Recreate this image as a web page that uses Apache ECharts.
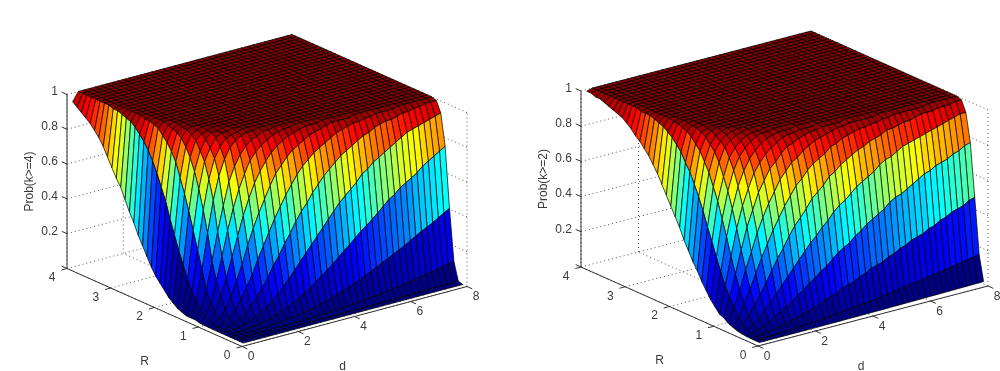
<!DOCTYPE html>
<html>
<head>
<meta charset="utf-8">
<style>
  html, body { margin: 0; background: #fff; }
  #main { width: 1000px; height: 371px; }
</style>
<script src="https://cdn.jsdelivr.net/npm/echarts@6/dist/echarts.min.js"></script>
</head>
<body>
<div id="main"></div>
<script>
const dValues = [0.2,0.4,0.6,0.8,1,1.2,1.4,1.6,1.8,2,2.2,2.4,2.6,2.8,3,3.2,3.4,3.6,3.8,4,4.2,4.4,4.6,4.8,5,5.2,5.4,5.6,5.8,6,6.2,6.4,6.6,6.8,7,7.2,7.4,7.6,7.8,8]
const rValues = [0.1,0.2,0.3,0.4,0.5,0.6,0.7,0.8,0.9,1,1.1,1.2,1.3,1.4,1.5,1.6,1.7,1.8,1.9,2,2.1,2.2,2.3,2.4,2.5,2.6,2.7,2.8,2.9,3,3.1,3.2,3.3,3.4,3.5,3.6,3.7,3.8,3.9,4]
const dTicks = [0, 2, 4, 6, 8]
const rTicks = [0, 1, 2, 3, 4]
const zTicks = [0.2, 0.4, 0.6, 0.8, 1]

// percent, one row per R, one column per d
const probK4 = [
  [0,0,0,0,0,0,0,0,0,0, 0,0,0,0,0,0,0,0,0,0, 0,0,0,0,0,0,0,0,0,0, 0,0,0,0,0,0,0,0,0,0],
  [0,0,0,0,0,0,0,0,0,0, .01,.01,.01,.02,.03,.03,.04,.05,.06,.08, .09,.11,.13,.15,.19,.21,.24,.27,.31,.35, .39,.43,.48,.54,.6,.66,.71,.78,.86,.95],
  [0,0,0,0,.01,.02,.03,.05,.08,.12, .18,.24,.32,.41,.52,.65,.8,.98,1.17,1.38, 1.6,1.9,2.2,2.5,2.9,3.2,3.6,4,4.5,4.9, 5.5,6,6.6,7.2,7.8,8.4,9,9.7,10.5,11.2],
  [0,0,.01,.03,.08,.15,.27,.42,.63,.91, 1.25,1.7,2.2,2.8,3.4,4.2,5.1,6,7,8, 9.2,10.4,11.8,13.1,14.6,16.2,17.7,19.4,21,22.6, 24.2,25.9,27.8,29.7,31.6,33,34.8,36.6,38.6,40.4],
  [0,.01,.06,.17,.38,.72,1.2,1.9,2.8,3.8, 5.2,6.7,8.3,10.2,12.3,14.5,16.9,19.5,21.8,24.5, 27.4,30.3,33,36,39,41.5,44,47,50,53, 55,58,60,62,64,67,69,71,73,75],
  [0,.05,.22,.6,1.3,2.4,3.9,5.9,8.2,11, 14,17,21,25,29,33,37,41,45,49, 53,57,60,63,66,70,72,75,77,79, 81,83,85,87,88,89,90,91,92,93],
  [.01,.14,.62,1.7,3.5,6.1,9.5,13.5,18,23, 29,34,40,45,51,56,60,65,69,73, 76,79,82,84,86,88,90,91,93,94, 95,95,96,97,97,98,98,99,99,99],
  [.02,.4,1.5,3.9,7.6,12.7,19,25,33,40, 47,54,60,66,71,76,80,83,86,88, 90,92,94,95,96,97,97,98,98,99, 99,99,99,100,100,100,100,100,100,100],
  [.05,.8,3.2,7.8,14,22,31,41,50,58, 65,72,78,82,86,89,91,93,95,96, 97,98,99,99,99,99,100,100,100,100, 100,100,100,100,100,100,100,100,100,100],
  [.1,1.6,6,14,24,35,46,57,66,74, 80,85,89,92,94,96,97,98,99,99, 99,100,100,100,100,100,100,100,100,100, 100,100,100,100,100,100,100,100,100,100],
  [.3,3,10,22,35,49,61,71,79,86, 90,93,95,97,98,99,99,100,100,100, 100,100,100,100,100,100,100,100,100,100, 100,100,100,100,100,100,100,100,100,100],
  [1,5,16,32,48,62,75,83,89,93, 96,97,99,99,100,100,100,100,100,100, 100,100,100,100,100,100,100,100,100,100, 100,100,100,100,100,100,100,100,100,100],
  [1,10,27,47,65,78,87,93,96,98, 99,99,100,100,100,100,100,100,100,100, 100,100,100,100,100,100,100,100,100,100, 100,100,100,100,100,100,100,100,100,100],
  [1,14,37,59,76,87,93,97,98,99, 100,100,100,100,100,100,100,100,100,100, 100,100,100,100,100,100,100,100,100,100, 100,100,100,100,100,100,100,100,100,100],
  [2,20,47,70,85,92,97,99,99,100, 100,100,100,100,100,100,100,100,100,100, 100,100,100,100,100,100,100,100,100,100, 100,100,100,100,100,100,100,100,100,100],
  [3,27,57,79,90,96,99,99,100,100, 100,100,100,100,100,100,100,100,100,100, 100,100,100,100,100,100,100,100,100,100, 100,100,100,100,100,100,100,100,100,100],
  [5,34,66,86,95,98,99,100,100,100, 100,100,100,100,100,100,100,100,100,100, 100,100,100,100,100,100,100,100,100,100, 100,100,100,100,100,100,100,100,100,100],
  [7,42,74,91,97,99,100,100,100,100, 100,100,100,100,100,100,100,100,100,100, 100,100,100,100,100,100,100,100,100,100, 100,100,100,100,100,100,100,100,100,100],
  [10,50,82,95,99,100,100,100,100,100, 100,100,100,100,100,100,100,100,100,100, 100,100,100,100,100,100,100,100,100,100, 100,100,100,100,100,100,100,100,100,100],
  [13,59,87,97,99,100,100,100,100,100, 100,100,100,100,100,100,100,100,100,100, 100,100,100,100,100,100,100,100,100,100, 100,100,100,100,100,100,100,100,100,100],
  [16,66,91,98,100,100,100,100,100,100, 100,100,100,100,100,100,100,100,100,100, 100,100,100,100,100,100,100,100,100,100, 100,100,100,100,100,100,100,100,100,100],
  [20,73,94,99,100,100,100,100,100,100, 100,100,100,100,100,100,100,100,100,100, 100,100,100,100,100,100,100,100,100,100, 100,100,100,100,100,100,100,100,100,100],
  [25,79,97,100,100,100,100,100,100,100, 100,100,100,100,100,100,100,100,100,100, 100,100,100,100,100,100,100,100,100,100, 100,100,100,100,100,100,100,100,100,100],
  [30,84,98,100,100,100,100,100,100,100, 100,100,100,100,100,100,100,100,100,100, 100,100,100,100,100,100,100,100,100,100, 100,100,100,100,100,100,100,100,100,100],
  [35,88,99,100,100,100,100,100,100,100, 100,100,100,100,100,100,100,100,100,100, 100,100,100,100,100,100,100,100,100,100, 100,100,100,100,100,100,100,100,100,100],
  [41,91,99,100,100,100,100,100,100,100, 100,100,100,100,100,100,100,100,100,100, 100,100,100,100,100,100,100,100,100,100, 100,100,100,100,100,100,100,100,100,100],
  [46,94,100,100,100,100,100,100,100,100, 100,100,100,100,100,100,100,100,100,100, 100,100,100,100,100,100,100,100,100,100, 100,100,100,100,100,100,100,100,100,100],
  [52,96,100,100,100,100,100,100,100,100, 100,100,100,100,100,100,100,100,100,100, 100,100,100,100,100,100,100,100,100,100, 100,100,100,100,100,100,100,100,100,100],
  [58,97,100,100,100,100,100,100,100,100, 100,100,100,100,100,100,100,100,100,100, 100,100,100,100,100,100,100,100,100,100, 100,100,100,100,100,100,100,100,100,100],
  [62,98,100,100,100,100,100,100,100,100, 100,100,100,100,100,100,100,100,100,100, 100,100,100,100,100,100,100,100,100,100, 100,100,100,100,100,100,100,100,100,100],
  [67,99,100,100,100,100,100,100,100,100, 100,100,100,100,100,100,100,100,100,100, 100,100,100,100,100,100,100,100,100,100, 100,100,100,100,100,100,100,100,100,100],
  [72,99,100,100,100,100,100,100,100,100, 100,100,100,100,100,100,100,100,100,100, 100,100,100,100,100,100,100,100,100,100, 100,100,100,100,100,100,100,100,100,100],
  [77,100,100,100,100,100,100,100,100,100, 100,100,100,100,100,100,100,100,100,100, 100,100,100,100,100,100,100,100,100,100, 100,100,100,100,100,100,100,100,100,100],
  [81,100,100,100,100,100,100,100,100,100, 100,100,100,100,100,100,100,100,100,100, 100,100,100,100,100,100,100,100,100,100, 100,100,100,100,100,100,100,100,100,100],
  [84,100,100,100,100,100,100,100,100,100, 100,100,100,100,100,100,100,100,100,100, 100,100,100,100,100,100,100,100,100,100, 100,100,100,100,100,100,100,100,100,100],
  [87,100,100,100,100,100,100,100,100,100, 100,100,100,100,100,100,100,100,100,100, 100,100,100,100,100,100,100,100,100,100, 100,100,100,100,100,100,100,100,100,100],
  [89,100,100,100,100,100,100,100,100,100, 100,100,100,100,100,100,100,100,100,100, 100,100,100,100,100,100,100,100,100,100, 100,100,100,100,100,100,100,100,100,100],
  [91,100,100,100,100,100,100,100,100,100, 100,100,100,100,100,100,100,100,100,100, 100,100,100,100,100,100,100,100,100,100, 100,100,100,100,100,100,100,100,100,100],
  [93,100,100,100,100,100,100,100,100,100, 100,100,100,100,100,100,100,100,100,100, 100,100,100,100,100,100,100,100,100,100, 100,100,100,100,100,100,100,100,100,100],
  [95,100,100,100,100,100,100,100,100,100, 100,100,100,100,100,100,100,100,100,100, 100,100,100,100,100,100,100,100,100,100, 100,100,100,100,100,100,100,100,100,100]
]

const probK2 = [
  [0,0,0,0,.02,.03,.05,.06,.08,.09, .11,.14,.16,.18,.21,.24,.27,.3,.34,.37, .41,.45,.49,.53,.57,.62,.67,.71,.77,.82, .87,.93,.98,1.04,1.1,1.16,1.22,1.28,1.34,1.41],
  [.02,.06,.13,.23,.36,.51,.69,.9,1.1,1.35, 1.6,1.9,2.2,2.6,2.9,3.3,3.7,4,4.5,4.9, 5.3,5.7,6.2,6.7,7.2,7.7,8.2,8.7,9.2,9.8, 10.3,10.9,11.4,12,12.6,13.2,13.8,14.4,15,15.6],
  [.08,.3,.65,1.1,1.7,2.4,3.1,4,5,6, 7,8,9,11,12,13,15,16,17,19, 20,22,23,24,26,27,29,30,32,33, 34,36,37,39,40,42,43,44,46,47],
  [.2,.9,2,3,5,7,9,11,13,16, 18,21,23,26,28,31,34,36,38,41, 43,46,48,50,52,55,57,58,60,62, 64,66,67,69,70,71,73,74,76,77],
  [.5,2,4,7,10,14,18,22,26,30, 34,38,42,45,49,52,56,59,61,64, 67,69,71,73,76,78,79,81,83,84, 85,86,87,88,89,90,91,92,93,93],
  [1,4,8,13,18,24,30,36,41,47, 52,56,60,65,68,71,75,77,80,82, 84,86,87,89,90,91,93,93,94,95, 95,96,97,97,97,98,98,98,99,99],
  [2,7,14,21,29,37,44,51,57,63, 68,73,76,80,83,85,87,90,91,93, 94,95,96,96,97,97,98,98,99,99, 99,99,99,99,100,100,100,100,100,100],
  [3,11,20,31,40,50,58,65,71,77, 81,85,87,90,92,94,95,96,97,98, 98,99,99,99,99,99,100,100,100,100, 100,100,100,100,100,100,100,100,100,100],
  [5,16,28,41,53,62,71,77,83,86, 90,93,94,96,97,98,98,99,99,99, 99,100,100,100,100,100,100,100,100,100, 100,100,100,100,100,100,100,100,100,100],
  [6,21,37,52,64,73,81,86,90,93, 95,97,98,98,99,99,99,100,100,100, 100,100,100,100,100,100,100,100,100,100, 100,100,100,100,100,100,100,100,100,100],
  [9,28,47,62,74,82,88,92,95,97, 98,99,99,99,100,100,100,100,100,100, 100,100,100,100,100,100,100,100,100,100, 100,100,100,100,100,100,100,100,100,100],
  [12,35,56,71,82,89,93,96,98,99, 99,100,100,100,100,100,100,100,100,100, 100,100,100,100,100,100,100,100,100,100, 100,100,100,100,100,100,100,100,100,100],
  [16,43,65,78,88,93,96,98,99,99, 100,100,100,100,100,100,100,100,100,100, 100,100,100,100,100,100,100,100,100,100, 100,100,100,100,100,100,100,100,100,100],
  [20,50,72,85,93,96,98,99,100,100, 100,100,100,100,100,100,100,100,100,100, 100,100,100,100,100,100,100,100,100,100, 100,100,100,100,100,100,100,100,100,100],
  [25,58,79,90,95,98,99,100,100,100, 100,100,100,100,100,100,100,100,100,100, 100,100,100,100,100,100,100,100,100,100, 100,100,100,100,100,100,100,100,100,100],
  [29,65,84,93,97,99,100,100,100,100, 100,100,100,100,100,100,100,100,100,100, 100,100,100,100,100,100,100,100,100,100, 100,100,100,100,100,100,100,100,100,100],
  [34,71,89,96,99,100,100,100,100,100, 100,100,100,100,100,100,100,100,100,100, 100,100,100,100,100,100,100,100,100,100, 100,100,100,100,100,100,100,100,100,100],
  [39,77,92,98,99,100,100,100,100,100, 100,100,100,100,100,100,100,100,100,100, 100,100,100,100,100,100,100,100,100,100, 100,100,100,100,100,100,100,100,100,100],
  [45,81,95,99,100,100,100,100,100,100, 100,100,100,100,100,100,100,100,100,100, 100,100,100,100,100,100,100,100,100,100, 100,100,100,100,100,100,100,100,100,100],
  [50,86,97,99,100,100,100,100,100,100, 100,100,100,100,100,100,100,100,100,100, 100,100,100,100,100,100,100,100,100,100, 100,100,100,100,100,100,100,100,100,100],
  [55,89,98,100,100,100,100,100,100,100, 100,100,100,100,100,100,100,100,100,100, 100,100,100,100,100,100,100,100,100,100, 100,100,100,100,100,100,100,100,100,100],
  [60,92,99,100,100,100,100,100,100,100, 100,100,100,100,100,100,100,100,100,100, 100,100,100,100,100,100,100,100,100,100, 100,100,100,100,100,100,100,100,100,100],
  [65,94,99,100,100,100,100,100,100,100, 100,100,100,100,100,100,100,100,100,100, 100,100,100,100,100,100,100,100,100,100, 100,100,100,100,100,100,100,100,100,100],
  [70,96,100,100,100,100,100,100,100,100, 100,100,100,100,100,100,100,100,100,100, 100,100,100,100,100,100,100,100,100,100, 100,100,100,100,100,100,100,100,100,100],
  [74,97,100,100,100,100,100,100,100,100, 100,100,100,100,100,100,100,100,100,100, 100,100,100,100,100,100,100,100,100,100, 100,100,100,100,100,100,100,100,100,100],
  [78,98,100,100,100,100,100,100,100,100, 100,100,100,100,100,100,100,100,100,100, 100,100,100,100,100,100,100,100,100,100, 100,100,100,100,100,100,100,100,100,100],
  [81,99,100,100,100,100,100,100,100,100, 100,100,100,100,100,100,100,100,100,100, 100,100,100,100,100,100,100,100,100,100, 100,100,100,100,100,100,100,100,100,100],
  [84,99,100,100,100,100,100,100,100,100, 100,100,100,100,100,100,100,100,100,100, 100,100,100,100,100,100,100,100,100,100, 100,100,100,100,100,100,100,100,100,100],
  [86,99,100,100,100,100,100,100,100,100, 100,100,100,100,100,100,100,100,100,100, 100,100,100,100,100,100,100,100,100,100, 100,100,100,100,100,100,100,100,100,100],
  [89,100,100,100,100,100,100,100,100,100, 100,100,100,100,100,100,100,100,100,100, 100,100,100,100,100,100,100,100,100,100, 100,100,100,100,100,100,100,100,100,100],
  [91,100,100,100,100,100,100,100,100,100, 100,100,100,100,100,100,100,100,100,100, 100,100,100,100,100,100,100,100,100,100, 100,100,100,100,100,100,100,100,100,100],
  [93,100,100,100,100,100,100,100,100,100, 100,100,100,100,100,100,100,100,100,100, 100,100,100,100,100,100,100,100,100,100, 100,100,100,100,100,100,100,100,100,100],
  [94,100,100,100,100,100,100,100,100,100, 100,100,100,100,100,100,100,100,100,100, 100,100,100,100,100,100,100,100,100,100, 100,100,100,100,100,100,100,100,100,100],
  [95,100,100,100,100,100,100,100,100,100, 100,100,100,100,100,100,100,100,100,100, 100,100,100,100,100,100,100,100,100,100, 100,100,100,100,100,100,100,100,100,100],
  [96,100,100,100,100,100,100,100,100,100, 100,100,100,100,100,100,100,100,100,100, 100,100,100,100,100,100,100,100,100,100, 100,100,100,100,100,100,100,100,100,100],
  [97,100,100,100,100,100,100,100,100,100, 100,100,100,100,100,100,100,100,100,100, 100,100,100,100,100,100,100,100,100,100, 100,100,100,100,100,100,100,100,100,100],
  [98,100,100,100,100,100,100,100,100,100, 100,100,100,100,100,100,100,100,100,100, 100,100,100,100,100,100,100,100,100,100, 100,100,100,100,100,100,100,100,100,100],
  [98,100,100,100,100,100,100,100,100,100, 100,100,100,100,100,100,100,100,100,100, 100,100,100,100,100,100,100,100,100,100, 100,100,100,100,100,100,100,100,100,100],
  [99,100,100,100,100,100,100,100,100,100, 100,100,100,100,100,100,100,100,100,100, 100,100,100,100,100,100,100,100,100,100, 100,100,100,100,100,100,100,100,100,100],
  [99,100,100,100,100,100,100,100,100,100, 100,100,100,100,100,100,100,100,100,100, 100,100,100,100,100,100,100,100,100,100, 100,100,100,100,100,100,100,100,100,100]
]

const TEXT_FONT = '"Liberation Sans", Arial, sans-serif'
const TEXT_COLOR = '#3a3a3a'

// pixel lengths of the MATLAB box edges on screen, per panel
const panels = [
  { rows: probK4, zName: 'Prob(k>=4)', left: 67, top: 34.5, dx: 225, rx: 175, dy: 60, ry: 78, zy: 174 },
  { rows: probK2, zName: 'Prob(k>=2)', left: 581, top: 31, dx: 230, rx: 177, dy: 60, ry: 79, zy: 176 }
]
panels.forEach(p => {
  p.width = p.dx + p.rx
  p.height = p.dy + p.ry + p.zy
})

// orthographic view: (d, R, z) to the 0..1 range of the panel's hidden axes
function project (p, d, r, z) {
  return [
    (d / 8 * p.dx + (1 - r / 4) * p.rx) / p.width,
    (d / 8 * p.dy + r / 4 * p.ry + z * p.zy) / p.height
  ]
}

function clamp01 (v) {
  return Math.max(0, Math.min(1, v))
}

function jet (z) {
  const level = Math.min(63, Math.floor(z * 64))
  const v = (level + 0.5) / 64
  const r = clamp01(Math.min(4 * v - 1.5, -4 * v + 4.5))
  const g = clamp01(Math.min(4 * v - 0.5, -4 * v + 3.5))
  const b = clamp01(Math.min(4 * v + 0.5, -4 * v + 2.5))
  return 'rgb(' + [r, g, b].map(c => Math.round(c * 255)).join(',') + ')'
}

function surfaceSeries (p, gridIndex) {
  // back corner first so the front facets paint over it
  const facets = []
  for (let i = rValues.length - 2; i >= 0; i--) {
    for (let j = dValues.length - 2; j >= 0; j--) {
      facets.push([i, j])
    }
  }
  return {
    type: 'custom',
    xAxisIndex: gridIndex,
    yAxisIndex: gridIndex,
    silent: true,
    animation: false,
    progressive: 0,
    data: facets,
    renderItem (params, api) {
      const i = api.value(0)
      const j = api.value(1)
      const corners = [[i, j], [i + 1, j], [i + 1, j + 1], [i, j + 1]]
      const points = corners.map(c => api.coord(project(p, dValues[c[1]], rValues[c[0]], p.rows[c[0]][c[1]] / 100)))
      return {
        type: 'polygon',
        shape: { points },
        style: { fill: jet(p.rows[i][j] / 100), stroke: '#000', lineWidth: 0.7 }
      }
    }
  }
}

function lineSeries (p, gridIndex, segments, style) {
  return {
    type: 'custom',
    xAxisIndex: gridIndex,
    yAxisIndex: gridIndex,
    silent: true,
    animation: false,
    data: segments.map((s, i) => [i]),
    renderItem (params, api) {
      const s = segments[params.dataIndex]
      const a = api.coord(project(p, s[0], s[1], s[2]))
      const b = api.coord(project(p, s[3], s[4], s[5]))
      return {
        type: 'line',
        shape: { x1: a[0], y1: a[1], x2: b[0], y2: b[1] },
        style
      }
    }
  }
}

function labelSeries (p, gridIndex, labels) {
  return {
    type: 'custom',
    xAxisIndex: gridIndex,
    yAxisIndex: gridIndex,
    silent: true,
    animation: false,
    data: labels.map((l, i) => [i]),
    renderItem (params, api) {
      const l = labels[params.dataIndex]
      const c = api.coord(project(p, l.at[0], l.at[1], l.at[2]))
      return {
        type: 'text',
        x: c[0] + l.ox,
        y: c[1] + l.oy,
        rotation: l.rotate || 0,
        style: {
          text: l.text,
          fontFamily: TEXT_FONT,
          fontSize: 12,
          fill: TEXT_COLOR,
          align: l.align || 'center',
          verticalAlign: 'middle'
        }
      }
    }
  }
}

function panelSeries (p, g) {
  const guides = []
  dTicks.forEach(d => {
    guides.push([d, 0, 0, d, 4, 0])
    guides.push([d, 4, 0, d, 4, 1])
  })
  rTicks.forEach(r => {
    guides.push([0, r, 0, 8, r, 0])
    guides.push([8, r, 0, 8, r, 1])
  })
  zTicks.forEach(z => {
    guides.push([0, 4, z, 8, 4, z])
    guides.push([8, 0, z, 8, 4, z])
  })

  const axes = [[0, 4, 0, 0, 4, 1], [0, 0, 0, 0, 4, 0], [0, 0, 0, 8, 0, 0]]
  zTicks.concat([0]).forEach(z => axes.push([0, 4, z, 0, 4.12, z]))
  rTicks.forEach(r => axes.push([0, r, 0, -0.2, r, 0]))
  dTicks.forEach(d => axes.push([d, 0, 0, d, -0.12, 0]))

  const labels = []
  zTicks.forEach(z => labels.push({ text: String(z), at: [0, 4, z], ox: -9, oy: -2.5, align: 'right' }))
  rTicks.forEach(r => labels.push({ text: String(r), at: [0, r, 0], ox: -15, oy: 9.5 }))
  dTicks.forEach(d => labels.push({ text: String(d), at: [d, 0, 0], ox: 9, oy: 10.5 }))
  labels.push({ text: 'R', at: [0, 2, 0], ox: -10, oy: 54.5 })
  labels.push({ text: 'd', at: [4, 0, 0], ox: -12, oy: 50.5 })
  labels.push({ text: p.zName, at: [0, 4, 0.5], ox: -37, oy: 0, rotate: Math.PI / 2 })

  return [
    lineSeries(p, g, guides, { stroke: '#555', lineWidth: 1, lineDash: [1, 3] }),
    lineSeries(p, g, axes, { stroke: '#333', lineWidth: 1 }),
    surfaceSeries(p, g),
    labelSeries(p, g, labels)
  ]
}

const chart = echarts.init(document.getElementById('main'), null, { renderer: 'canvas' })
chart.setOption({
  backgroundColor: '#fff',
  animation: false,
  tooltip: { show: false },
  grid: panels.map(p => ({ left: p.left, top: p.top, width: p.width, height: p.height, containLabel: false })),
  xAxis: panels.map((p, i) => ({ type: 'value', gridIndex: i, min: 0, max: 1, show: false })),
  yAxis: panels.map((p, i) => ({ type: 'value', gridIndex: i, min: 0, max: 1, show: false })),
  series: panels.flatMap((p, i) => panelSeries(p, i))
})
</script>
</body>
</html>
